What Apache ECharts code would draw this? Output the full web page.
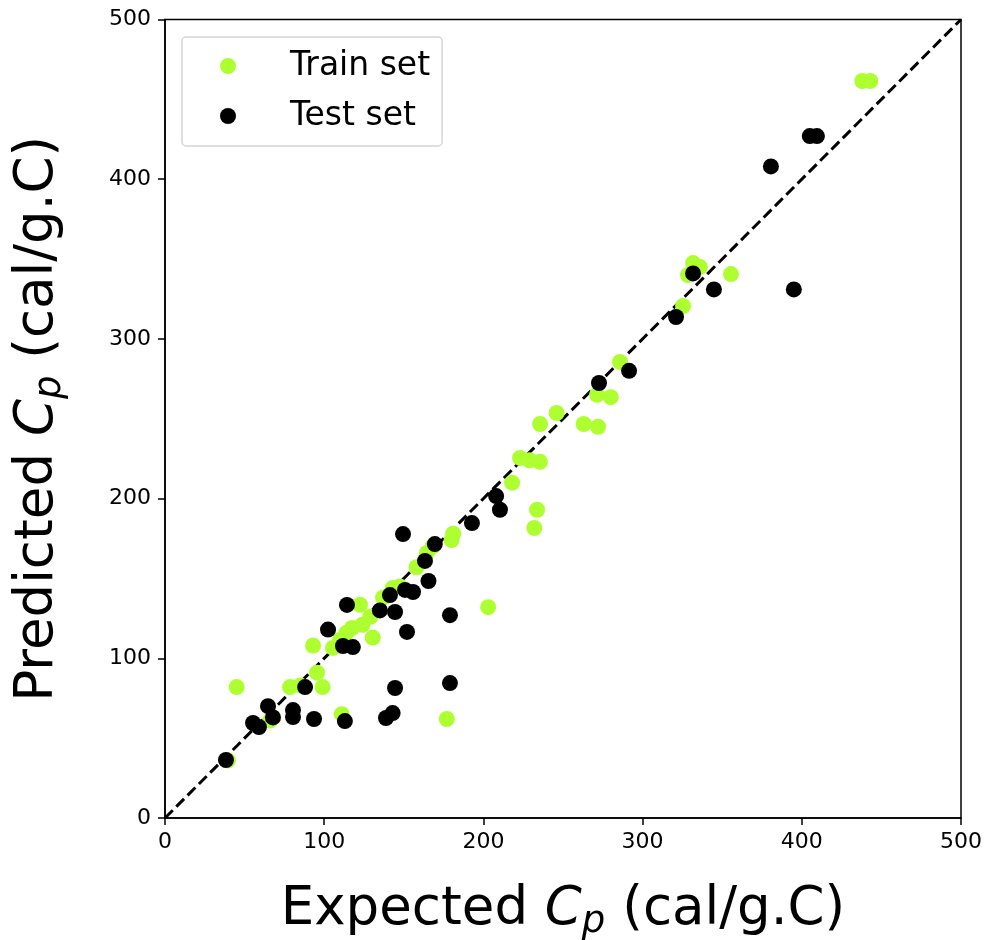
<!DOCTYPE html>
<html>
<head>
<meta charset="utf-8">
<script src="https://cdn.jsdelivr.net/npm/echarts@6/dist/echarts.min.js"></script>
<style>
  html, body { margin: 0; padding: 0; background: #fff; }
  #chart { width: 984px; height: 940px; }
</style>
</head>
<body>
<div id="chart"></div>
<script>
// Expected vs predicted heat capacity, [expected, predicted]
const trainSet = [
  [39.5, 36], [45, 82], [66, 61], [68, 63], [78.5, 82], [85, 83], [95.5, 91], [99, 82],
  [93, 108], [105.5, 106.5], [111, 65], [110, 111.5], [114, 116], [117.5, 119],
  [122.5, 133.5], [124, 121], [129, 126], [130.5, 113], [137, 138], [143, 144],
  [147.5, 145], [158, 157], [164.5, 166], [168, 170], [180, 174], [181, 178],
  [177, 62], [203, 132], [218, 210], [223, 225.5], [229, 224], [235.5, 223],
  [232, 181.6], [233.7, 193], [235.6, 246.7], [246, 253.6], [263, 246.7], [272, 245],
  [271.4, 265], [280, 263.5], [285.8, 285.6], [325.4, 320.6], [328.5, 340],
  [331.7, 347.5], [336, 345], [355.5, 340.6], [438, 461.5], [443, 461.5]
];
const testSet = [
  [38.3, 36.3], [55.3, 59.5], [59, 57], [64.7, 70], [67.8, 63], [80.4, 67.6], [80.4, 63.2],
  [88, 82], [93.6, 62], [102.4, 118], [111.8, 107.7], [113, 60.7], [114.3, 133.4],
  [118, 107], [135, 130], [138.8, 62.6], [141.3, 139.6], [143, 65.7], [144.5, 81.4],
  [144.5, 129], [149.5, 177.8], [150.8, 142.8], [152, 116.5], [155.8, 141.5],
  [163.3, 161], [165.5, 148.4], [169.5, 171.5], [179, 127], [179, 84.5], [192.8, 184.7],
  [208, 201.6], [210.4, 193], [272.6, 272.4], [291.5, 280], [321, 313.7], [331.7, 341],
  [344.8, 331], [395, 331], [380.6, 408], [405, 427], [409.5, 427]
];
// identity reference line
const identityLine = [[0, 0], [500, 500]];
const axisMin = 0, axisMax = 500, axisStep = 100;

const FONT = 'DejaVu Sans';
const nameRich = {
  a: { fontFamily: FONT, fontSize: 53, lineHeight: 62, color: '#000', verticalAlign: 'middle' },
  i: { fontFamily: FONT, fontSize: 53, lineHeight: 62, color: '#000', fontStyle: 'italic', verticalAlign: 'middle' },
  s: { fontFamily: FONT, fontSize: 37, lineHeight: 40, color: '#000', fontStyle: 'italic', verticalAlign: 'bottom' }
};

const chart = echarts.init(document.getElementById('chart'), null, { renderer: 'canvas' });

const axisCommon = {
  type: 'value',
  min: axisMin,
  max: axisMax,
  interval: axisStep,
  nameLocation: 'middle',
  nameTextStyle: { rich: nameRich },
  axisLine: { show: true, onZero: false, lineStyle: { color: '#000', width: 1.5 } },
  axisTick: { show: true, inside: false, length: 7, lineStyle: { color: '#000', width: 1.5 } },
  splitLine: { show: false },
  axisLabel: { fontFamily: FONT, fontSize: 22, color: '#000' }
};

chart.setOption({
  animation: false,
  backgroundColor: '#fff',
  grid: {
    left: 165, right: 23, top: 19.5, bottom: 122,
    outerBoundsMode: 'none',
    containLabel: false,
    show: true, borderColor: '#000', borderWidth: 1.5, backgroundColor: 'transparent'
  },
  xAxis: Object.assign({}, axisCommon, {
    name: '{a|Expected }{i|C}{s|p}{a| (cal/g.C)}',
    nameGap: 61,
    axisLabel: Object.assign({}, axisCommon.axisLabel, { margin: 13 })
  }),
  yAxis: Object.assign({}, axisCommon, {
    name: '{a|Predicted }{i|C}{s|p}{a| (cal/g.C)}',
    nameGap: 96,
    axisLabel: Object.assign({}, axisCommon.axisLabel, { margin: 14 })
  }),
  legend: {
    left: 182, top: 37,
    orient: 'vertical',
    data: ['Train set', 'Test set'],
    itemWidth: 16, itemHeight: 16,
    itemGap: 16,
    padding: [12, 12, 13, 38],
    backgroundColor: '#fff',
    borderColor: '#d5d5d5',
    borderWidth: 1.5,
    borderRadius: 4,
    textStyle: { fontFamily: FONT, fontSize: 33, lineHeight: 34, color: '#000', padding: [0, 0, 0, 49] }
  },
  series: [
    {
      type: 'line',
      data: identityLine,
      symbol: 'none',
      silent: true,
      z: 1,
      lineStyle: { color: '#000', width: 3, type: [11, 5] }
    },
    {
      name: 'Train set',
      type: 'scatter',
      data: trainSet,
      symbol: 'circle',
      symbolSize: 16,
      z: 2,
      itemStyle: { color: '#adff2f', opacity: 1 }
    },
    {
      name: 'Test set',
      type: 'scatter',
      data: testSet,
      symbol: 'circle',
      symbolSize: 16,
      z: 3,
      itemStyle: { color: '#000', opacity: 1 }
    }
  ]
});
</script>
</body>
</html>
